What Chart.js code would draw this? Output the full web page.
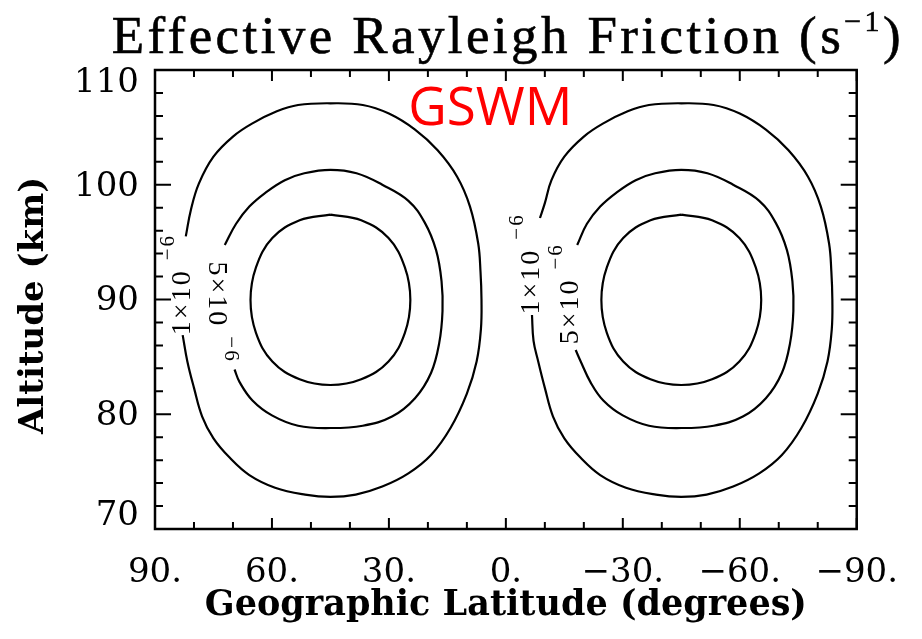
<!DOCTYPE html>
<html>
<head>
<meta charset="utf-8">
<script src="https://cdn.jsdelivr.net/npm/chart.js@4.4.1/dist/chart.umd.min.js"></script>
<style>
  html, body { margin: 0; padding: 0; background: #fff; }
  canvas { display: block; }
</style>
</head>
<body>
<canvas id="chart" width="922" height="639"></canvas>
<script>
// Axis ranges and tick labels
const latMin = -90, latMax = 90;
const altMin = 70, altMax = 110;
const latTicks = [90, 60, 30, 0, -30, -60, -90];
const latTickLabels = ['90.', '60.', '30.', '0.', '\u221230.', '\u221260.', '\u221290.'];
const altTicks = [70, 80, 90, 100, 110];
const altTickLabels = ['70', '80', '90', '100', '110'];

// Contour levels (s^-1)
const outerLevel = 1e-6;
const middleLevel = 5e-6;
const innerLevel = 1e-5;

// Contours as [latitude, altitude] pairs, northern cell
const northOuter = [
  [82.1, 95.5], [80.8, 97.8], [78.75, 100.1], [75, 102.45], [70, 104.2], [65, 105.35],
  [58.75, 106.4], [53.3, 106.95], [45, 107.1], [36.7, 106.95], [30, 106.2], [23.3, 104.8],
  [17.5, 103.0], [12.5, 100.7], [9.2, 98.1], [7.1, 94.9], [6.5, 92.4], [6.25, 90.0],
  [6.4, 87.4], [7.5, 84.6], [10, 81.8], [14.2, 78.8], [19.2, 76.45], [25, 74.85],
  [31.7, 73.7], [38.5, 73.0], [45, 72.8], [51.5, 73.0], [59.2, 73.6], [65.8, 74.7],
  [70.8, 76.2], [75, 77.9], [77.9, 79.8], [80, 82.3], [81.7, 84.6], [82.9, 86.9]
];
const northMiddle = [
  [72.1, 94.75], [69.2, 96.6], [65.8, 98.1], [61.7, 99.3], [56.7, 100.4], [51.7, 101.0],
  [45, 101.3], [38.3, 101.0], [31.7, 100.0], [25, 98.6], [20.8, 96.7], [17.9, 94.3],
  [16.5, 91.6], [16.25, 89.0], [17.1, 86.2], [19.2, 83.6], [23.3, 81.4], [29.2, 79.8],
  [36.7, 79.0], [45, 78.8], [53.3, 79.0], [60, 79.9], [65, 81.2], [68.3, 82.8], [69.6, 83.9]
];
const northInner = [
  [45, 97.4], [37.1, 96.9], [30.1, 95.35], [25.9, 92.8], [24.5, 89.95], [25.9, 87.1],
  [30.1, 84.6], [37.1, 83.05], [45, 82.55], [52.9, 83.05], [59.9, 84.6], [64.1, 87.1],
  [65.5, 89.95], [64.1, 92.8], [59.9, 95.35], [52.9, 96.9], [45, 97.4]
];

// Southern cell
const southOuter = [
  [-8.75, 97.1], [-10, 98.4], [-11.7, 100.4], [-15, 102.45], [-20, 104.2], [-25, 105.35],
  [-31.25, 106.4], [-36.7, 106.95], [-45, 107.1], [-53.3, 106.95], [-60, 106.2], [-66.7, 104.8],
  [-72.5, 103.0], [-77.5, 100.7], [-80.8, 98.1], [-82.9, 94.9], [-83.5, 92.4], [-83.75, 90.0],
  [-83.6, 87.4], [-82.5, 84.6], [-80, 81.8], [-75.8, 78.8], [-70.8, 76.45], [-65, 74.85],
  [-58.3, 73.7], [-51.5, 73.0], [-45, 72.8], [-38.5, 73.0], [-30.8, 73.6], [-24.2, 74.7],
  [-19.2, 76.2], [-15, 77.9], [-12.1, 79.8], [-10, 82.3], [-8.3, 84.6], [-7.1, 86.4], [-6.7, 88.65]
];
const southMiddle = [
  [-18.3, 94.75], [-20.8, 96.6], [-24.2, 98.1], [-28.3, 99.3], [-33.3, 100.4], [-38.3, 101.0],
  [-45, 101.3], [-51.7, 101.0], [-58.3, 100.0], [-65, 98.6], [-69.2, 96.7], [-72.1, 94.3],
  [-73.5, 91.6], [-73.75, 89.0], [-72.9, 86.2], [-70.8, 83.6], [-66.7, 81.4], [-60.8, 79.8],
  [-53.3, 79.0], [-45, 78.8], [-36.7, 79.0], [-30, 79.9], [-25, 81.2], [-21.7, 82.8],
  [-19.2, 84.6], [-17.9, 85.6]
];
const southInner = [
  [-45, 97.4], [-52.9, 96.9], [-59.9, 95.35], [-64.1, 92.8], [-65.5, 89.95], [-64.1, 87.1],
  [-59.9, 84.6], [-52.9, 83.05], [-45, 82.55], [-37.1, 83.05], [-30.1, 84.6], [-25.9, 87.1],
  [-24.5, 89.95], [-25.9, 92.8], [-30.1, 95.35], [-37.1, 96.9], [-45, 97.4]
];

// In-line contour labels: level, anchor (lat, alt) and text direction
const contourLabels = [
  { level: outerLevel,  lat: 83,    alt: 91.3, angle: -90 },
  { level: middleLevel, lat: 74.25, alt: 88.9, angle: 90 },
  { level: outerLevel,  lat: -6.5,  alt: 93.1, angle: -90 },
  { level: middleLevel, lat: -16.5, alt: 90.5, angle: -90 }
];

const modelName = 'GSWM';
const modelNameAt = [4.0, 105.2];

const contours = [
  { level: outerLevel, pts: northOuter },
  { level: middleLevel, pts: northMiddle },
  { level: innerLevel, pts: northInner },
  { level: outerLevel, pts: southOuter },
  { level: middleLevel, pts: southMiddle },
  { level: innerLevel, pts: southInner }
];

function levelText(level) {
  const exp = Math.floor(Math.log10(level) + 1e-9);
  const man = Math.round(level / Math.pow(10, exp));
  return { main: man + '\u00D710', sup: '\u2212' + Math.abs(exp) };
}

// Title with a superscript unit, centred over the plot frame
const titlePlugin = {
  id: 'frictionTitle',
  afterDraw(chart) {
    const { ctx, chartArea: a } = chart;
    const parts = [
      { t: 'Effective Rayleigh Friction (s', font: '53px "Liberation Serif"', dy: 0 },
      { t: '\u22121', font: '30px "Liberation Serif"', dy: -22 },
      { t: ')', font: '53px "Liberation Serif"', dy: 0 }
    ];
    ctx.save();
    ctx.fillStyle = '#000';
    ctx.strokeStyle = '#000';
    ctx.lineWidth = 0.6;
    ctx.textBaseline = 'alphabetic';
    ctx.textAlign = 'left';
    ctx.letterSpacing = '3.4px';
    let total = 0;
    parts.forEach(p => { ctx.font = p.font; p.w = ctx.measureText(p.t).width; total += p.w; });
    let x = (a.left + a.right) / 2 - total / 2 + 2;
    parts.forEach(p => {
      ctx.font = p.font;
      ctx.fillText(p.t, x, 53 + p.dy);
      ctx.strokeText(p.t, x, 53 + p.dy);
      x += p.w;
    });
    ctx.restore();
  }
};

// Contour value labels and the model name
const annotationPlugin = {
  id: 'contourAnnotations',
  afterDatasetsDraw(chart) {
    const { ctx, scales: { x, y } } = chart;
    ctx.save();
    ctx.fillStyle = '#000';
    ctx.textBaseline = 'middle';
    ctx.textAlign = 'left';
    ctx.letterSpacing = '2px';
    contourLabels.forEach(l => {
      const { main, sup } = levelText(l.level);
      const mainFont = '28px "Liberation Serif"';
      const supFont = '21px "Liberation Serif"';
      ctx.font = mainFont;
      const w1 = ctx.measureText(main).width;
      ctx.font = supFont;
      const w2 = ctx.measureText(sup).width;
      const gap = 9;
      const total = w1 + gap + w2;
      ctx.save();
      ctx.translate(x.getPixelForValue(l.lat), y.getPixelForValue(l.alt));
      ctx.rotate(l.angle * Math.PI / 180);
      ctx.font = mainFont;
      ctx.fillText(main, -total / 2, 0);
      ctx.font = supFont;
      ctx.fillText(sup, -total / 2 + w1 + gap, -14);
      ctx.restore();
    });
    ctx.letterSpacing = '0px';
    ctx.fillStyle = '#ff0000';
    ctx.font = '53px "Open Sans"';
    ctx.textAlign = 'center';
    ctx.textBaseline = 'alphabetic';
    ctx.fillText(modelName, x.getPixelForValue(modelNameAt[0]), y.getPixelForValue(modelNameAt[1]));
    ctx.restore();
  }
};

// Plot frame with inward tick marks on all four sides
const framePlugin = {
  id: 'frameTicks',
  afterDatasetsDraw(chart) {
    const { ctx, chartArea: a, scales: { x, y } } = chart;
    ctx.save();
    ctx.strokeStyle = '#000';
    ctx.lineWidth = 2;
    ctx.beginPath();
    x.ticks.forEach(t => {
      const px = x.getPixelForValue(t.value);
      const len = latTicks.includes(t.value) ? 11 : 7;
      ctx.moveTo(px, a.bottom); ctx.lineTo(px, a.bottom - len);
      ctx.moveTo(px, a.top); ctx.lineTo(px, a.top + len);
    });
    y.ticks.forEach(t => {
      const py = y.getPixelForValue(t.value);
      const len = altTicks.includes(t.value) ? 16 : 8;
      ctx.moveTo(a.left, py); ctx.lineTo(a.left + len, py);
      ctx.moveTo(a.right, py); ctx.lineTo(a.right - len, py);
    });
    ctx.stroke();
    ctx.lineWidth = 2.5;
    ctx.strokeRect(a.left, a.top, a.right - a.left, a.bottom - a.top);
    ctx.restore();
  }
};

const datasets = contours.map(c => ({
  label: c.level.toExponential(0),
  data: c.pts.map(([lat, alt]) => ({ x: lat, y: alt })),
  showLine: true,
  borderColor: '#000',
  borderWidth: 2.2,
  pointRadius: 0,
  tension: 0.4,
  fill: false
}));

new Chart(document.getElementById('chart'), {
  type: 'scatter',
  data: { datasets },
  plugins: [annotationPlugin, framePlugin, titlePlugin],
  options: {
    responsive: false,
    animation: false,
    devicePixelRatio: 1,
    layout: { padding: { top: 70, right: 47, left: 0, bottom: 0 } },
    plugins: { legend: { display: false }, tooltip: { enabled: false }, title: { display: false } },
    scales: {
      x: {
        type: 'linear',
        reverse: true,
        min: latMin,
        max: latMax,
        afterFit(scale) { scale.height = 110; },
        grid: { display: false, drawTicks: false },
        border: { display: false },
        ticks: {
          stepSize: 10,
          autoSkip: false,
          maxRotation: 0,
          minRotation: 0,
          padding: 24,
          color: '#000',
          font: { family: '"DejaVu Serif"', size: 34 },
          callback(v) {
            const i = latTicks.indexOf(v);
            return i >= 0 ? latTickLabels[i] : '';
          }
        },
        title: {
          display: true,
          text: 'Geographic Latitude (degrees)',
          color: '#000',
          font: { family: '"DejaVu Serif"', size: 35, weight: 'bold' },
          padding: { top: 0, bottom: 12 }
        }
      },
      y: {
        type: 'linear',
        min: altMin,
        max: altMax,
        afterFit(scale) { scale.width = 155; },
        grid: { display: false, drawTicks: false },
        border: { display: false },
        ticks: {
          stepSize: 2,
          autoSkip: false,
          padding: 16,
          color: '#000',
          // the second line's spacing sets how far each label sits below its tick
          font(ctx) {
            const v = ctx.tick ? ctx.tick.value : 0;
            const lh = v === altMax ? 27 : v === altMin ? 25 : 4;
            return { family: '"DejaVu Serif"', size: 34, lineHeight: lh + 'px' };
          },
          callback(v) {
            const i = altTicks.indexOf(v);
            if (i < 0) return '';
            const s = altTickLabels[i];
            // the bottom label is raised to stay inside the frame
            if (v === altMin) return [s, ''];
            return ['', s];
          }
        },
        title: {
          display: true,
          text: 'Altitude (km) ',
          color: '#000',
          font: { family: '"DejaVu Serif"', size: 34, weight: 'bold' },
          padding: { top: 14, bottom: 0 }
        }
      }
    }
  }
});
</script>
</body>
</html>
